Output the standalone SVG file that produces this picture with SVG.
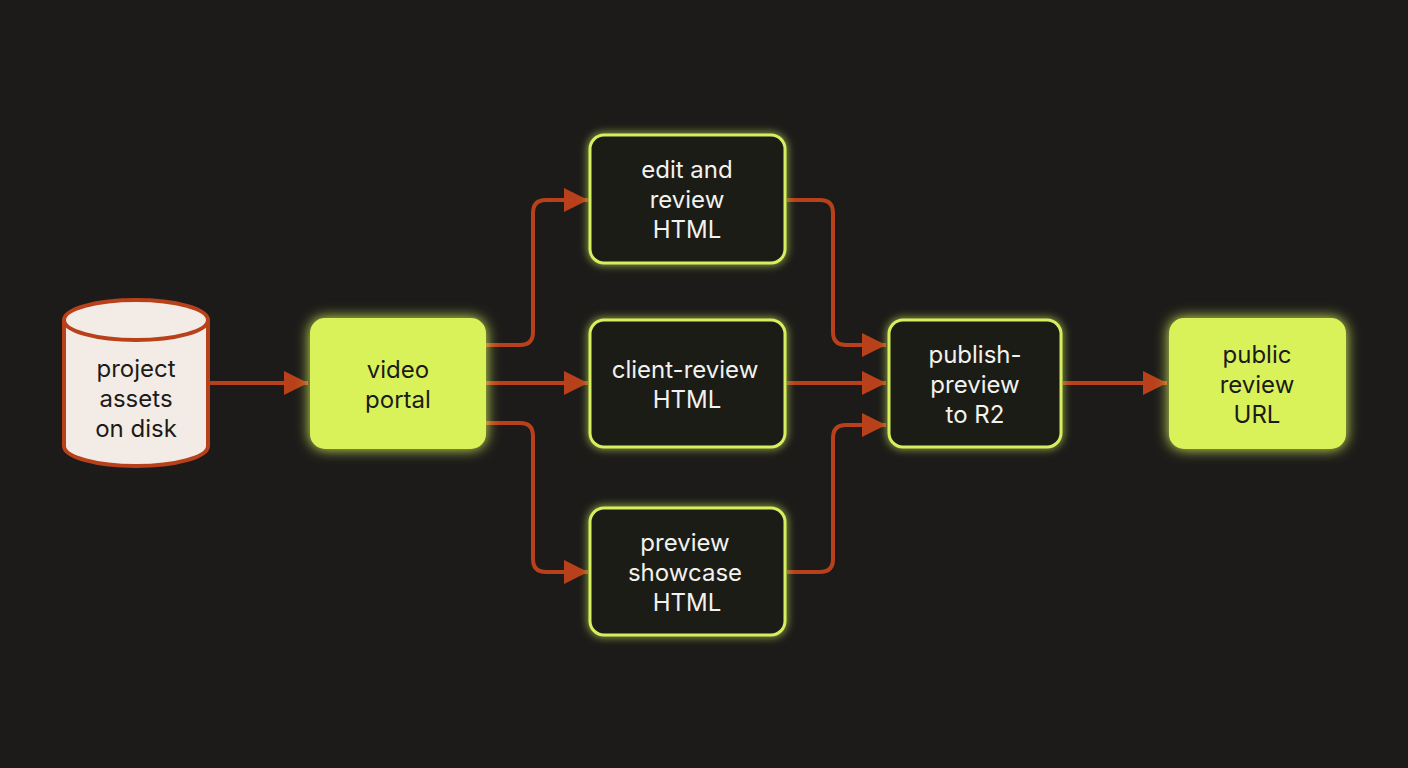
<svg xmlns="http://www.w3.org/2000/svg" width="1408" height="768" viewBox="0 0 1408 768">
<defs>
<filter id="glow" x="-30%" y="-30%" width="160%" height="160%"><feGaussianBlur stdDeviation="7" in="SourceGraphic" result="b"/><feMerge><feMergeNode in="b"/><feMergeNode in="SourceGraphic"/></feMerge></filter>
<filter id="glow2" x="-30%" y="-30%" width="160%" height="160%"><feGaussianBlur stdDeviation="4" in="SourceGraphic" result="b"/><feMerge><feMergeNode in="b"/><feMergeNode in="SourceGraphic"/></feMerge></filter>
<marker id="ah" markerWidth="6" markerHeight="6" refX="6" refY="3" orient="auto" markerUnits="strokeWidth"><path d="M0,0 L6,3 L0,6 Z" fill="#b8401a"/></marker>
</defs>
<style>
text{font-family:Inter,"Open Sans","Liberation Sans",sans-serif;font-size:24px;text-anchor:middle}
.w{fill:#f2f2ee}.d{fill:#1c1b19}
.box{fill:#1c1b19;stroke:#d6ef5e;stroke-width:3}
.lime{fill:#d9f25a;stroke:#d9f25a;stroke-width:2}
.c{fill:none;stroke:#b8401a;stroke-width:4;marker-end:url(#ah)}
</style>
<rect width="1408" height="768" fill="#1c1b19"/>
<g id="connectors">
<path class="c" d="M208,383 H308"/>
<path class="c" d="M485,345 H520 Q533,345 533,332 V213 Q533,200 546,200 H588"/>
<path class="c" d="M485,383 H588"/>
<path class="c" d="M485,423 H520 Q533,423 533,436 V559 Q533,572 546,572 H588"/>
<path class="c" d="M787,200 H820 Q833,200 833,213 V332 Q833,345 846,345 H886"/>
<path class="c" d="M787,383 H886"/>
<path class="c" d="M787,572 H820 Q833,572 833,559 V438 Q833,425 846,425 H886"/>
<path class="c" d="M1063,383 H1167"/>
</g>
<g id="cyl">
<path d="M64,320 V446 A72,20 0 0 0 208,446 V320" fill="#f3ece6" stroke="#b8401a" stroke-width="4"/>
<ellipse cx="136" cy="320" rx="72" ry="20" fill="#f3ece6" stroke="#b8401a" stroke-width="4"/>
<text class="d" x="136" y="377">project</text><text class="d" x="136" y="407">assets</text><text class="d" x="136" y="437">on disk</text>
</g>
<g id="portal"><rect class="lime" x="311" y="319" width="174" height="129" rx="14" filter="url(#glow)"/>
<text class="d" x="398" y="378">video</text><text class="d" x="398" y="408">portal</text></g>
<g id="edit"><rect class="box" x="590" y="135" width="195" height="128" rx="14" filter="url(#glow2)"/>
<text class="w" x="687" y="178">edit and</text><text class="w" x="687" y="208">review</text><text class="w" x="687" y="238">HTML</text></g>
<g id="client"><rect class="box" x="590" y="320" width="195" height="127" rx="14" filter="url(#glow2)"/>
<text class="w" x="685" y="378">client-review</text><text class="w" x="687" y="408">HTML</text></g>
<g id="preview"><rect class="box" x="590" y="508" width="195" height="127" rx="14" filter="url(#glow2)"/>
<text class="w" x="685" y="551">preview</text><text class="w" x="685" y="581">showcase</text><text class="w" x="687" y="611">HTML</text></g>
<g id="publish"><rect class="box" x="889" y="320" width="172" height="127" rx="14" filter="url(#glow2)"/>
<text class="w" x="975" y="363">publish-</text><text class="w" x="975" y="393">preview</text><text class="w" x="975" y="423">to R2</text></g>
<g id="public"><rect class="lime" x="1170" y="319" width="175" height="129" rx="14" filter="url(#glow)"/>
<text class="d" x="1257" y="363">public</text><text class="d" x="1257" y="393">review</text><text class="d" x="1257" y="423">URL</text></g>
</svg>
